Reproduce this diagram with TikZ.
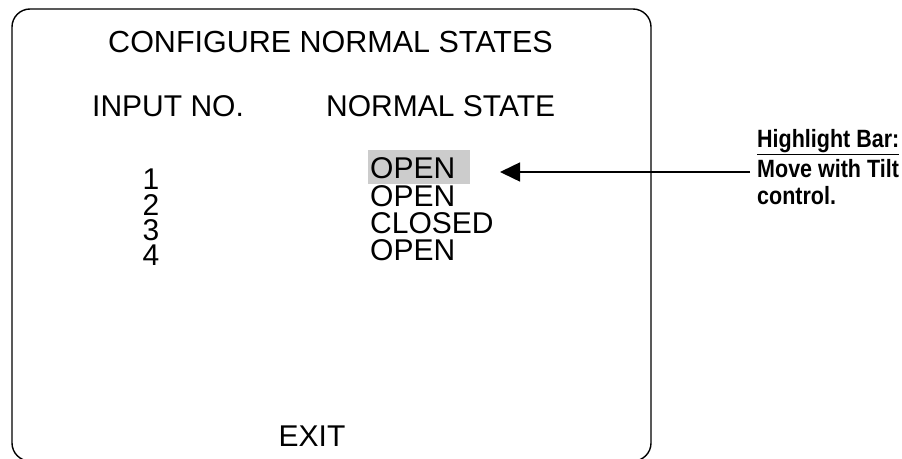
\documentclass[tikz,border=0pt]{standalone}
\usepackage{fontspec}
\setmainfont{Liberation Sans}
\newfontfamily\narrowbold[FakeStretch=0.86]{Liberation Sans Bold}
\usetikzlibrary{arrows.meta}
\tikzset{
  screen/.style={draw=black, line width=1.4pt, rounded corners=18pt},
  big/.style={font=\fontsize{30}{30}\selectfont, inner sep=0pt, anchor=base west},
  bigc/.style={font=\fontsize{30}{30}\selectfont, inner sep=0pt, anchor=base},
  note/.style={font=\fontsize{25}{25}\narrowbold, inner sep=0pt, anchor=base west},
  hl/.style={fill=black!20, draw=none},
  pointer/.style={line width=1.5pt, -{Triangle[length=20pt,width=19pt]}}
}
\begin{document}
\begin{tikzpicture}[x=1pt,y=-1pt]
\useasboundingbox (0,0) rectangle (902,458);
\begin{scope}
\clip (0,0) rectangle (902,458);
\draw[screen] (12,9) rectangle (651,461);
\end{scope}
\fill[hl] (368,150) rectangle (470,184);
\node[bigc, font=\fontsize{30.5}{30.5}\selectfont] (title) at (330.5,52) {CONFIGURE NORMAL STATES};
\node[big] (hin) at (92,116) {INPUT NO.};
\node[big] (hns) at (326,116) {NORMAL STATE};
\node[bigc] (n1) at (151,189) {1};
\node[bigc] (n2) at (151,215) {2};
\node[bigc] (n3) at (151,240) {3};
\node[bigc] (n4) at (151,265) {4};
\node[big] (s1) at (370,178) {OPEN};
\node[big] (s2) at (370,206) {OPEN};
\node[big] (s3) at (370,233) {CLOSED};
\node[big] (s4) at (370,260) {OPEN};
\node[bigc] (exit) at (312,446) {EXIT};
\node[note] (l1) at (757,147) {\underline{Highlight Bar:}};
\node[note] (l2) at (757,177) {Move with Tilt};
\node[note] (l3) at (757,204) {control.};
\coordinate (tail) at (750,172);
\coordinate (tip) at (500,172);
\draw[pointer] (tail) -- (tip);
\end{tikzpicture}
\end{document}
